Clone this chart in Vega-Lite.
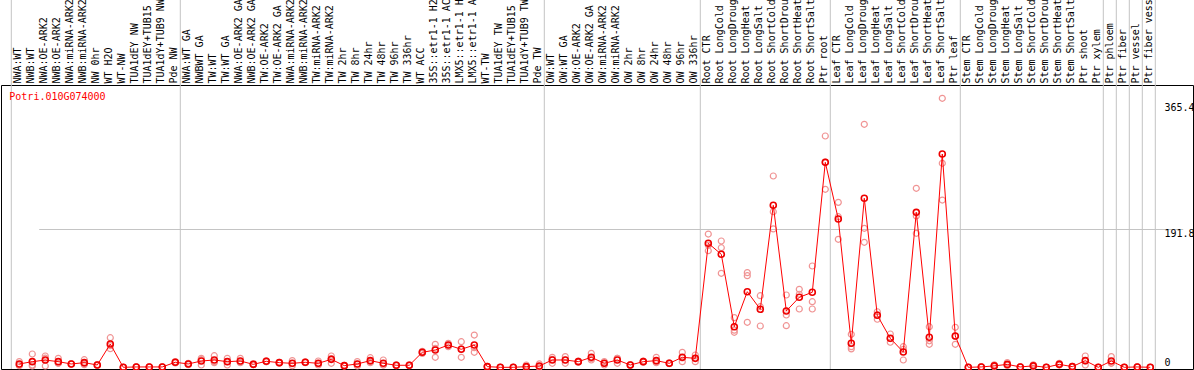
{
  "$schema": "https://vega.github.io/schema/vega-lite/v6.json",
  "autosize": {"type": "none"},
  "padding": {"left": 1, "top": 85, "right": 1, "bottom": 1},
  "width": 1192,
  "height": 284,
  "background": "white",
  "config": {"view": {"stroke": "black", "strokeWidth": 1}, "font": "DejaVu Sans Mono"},
  "datasets": {
    "m": [
      {"i":1,"c":"NWA:WT","v":4.6},{"i":2,"c":"NWB:WT","v":7.8},{"i":3,"c":"NWA:OE-ARK2","v":10},{"i":4,"c":"NWB:OE-ARK2","v":7.8},
      {"i":5,"c":"NWA:miRNA-ARK2","v":4.6},{"i":6,"c":"NWB:miRNA-ARK2","v":6.4},{"i":7,"c":"NW 0hr","v":3.2},{"i":8,"c":"WT H2O","v":32.2},
      {"i":9,"c":"WT-NW","v":0},{"i":10,"c":"TUA1dEY NW","v":0.5},{"i":11,"c":"TUA1dEY+TUB15 NW","v":0.5},{"i":12,"c":"TUA1dY+TUB9 NW","v":0.5},
      {"i":13,"c":"Pde NW","v":7},{"i":14,"c":"NWA:WT GA","v":4.6},{"i":15,"c":"NWBWT GA","v":8.7},{"i":16,"c":"TW:WT","v":10.1},
      {"i":17,"c":"TW:WT GA","v":7.8},{"i":18,"c":"NWA:OE-ARK2 GA","v":8.7},{"i":19,"c":"NWB:OE-ARK2 GA","v":4.1},{"i":20,"c":"TW:OE-ARK2","v":8.3},
      {"i":21,"c":"TW:OE-ARK2 GA","v":6.4},{"i":22,"c":"NWA:miRNA-ARK2 GA","v":5.5},{"i":23,"c":"NWB:miRNA-ARK2 GA","v":6.9},{"i":24,"c":"TW:miRNA-ARK2","v":5.5},
      {"i":25,"c":"TW:miRNA-ARK2 GA","v":11},{"i":26,"c":"TW 2hr","v":2.3},{"i":27,"c":"TW 8hr","v":4.6},{"i":28,"c":"TW 24hr","v":9.2},
      {"i":29,"c":"TW 48hr","v":5.5},{"i":30,"c":"TW 96hr","v":2.8},{"i":31,"c":"TW 336hr","v":2.8},{"i":32,"c":"WT ACC","v":20.7},
      {"i":33,"c":"35S::etr1-1 H2O","v":23.9},{"i":34,"c":"35S::etr1-1 ACC","v":30.8},{"i":35,"c":"LMX5::etr1-1 H2O","v":24.9},{"i":36,"c":"LMX5::etr1-1 ACC","v":30.8},
      {"i":37,"c":"WT-TW","v":0.9},{"i":38,"c":"TUA1dEY TW","v":0},{"i":39,"c":"TUA1dEY+TUB15 TW","v":0},{"i":40,"c":"TUA1dY+TUB9 TW","v":0.9},
      {"i":41,"c":"Pde TW","v":1.8},{"i":42,"c":"OW:WT","v":10.1},{"i":43,"c":"OW:WT GA","v":10.1},{"i":44,"c":"OW:OE-ARK2","v":7.8},
      {"i":45,"c":"OW:OE-ARK2 GA","v":13.8},{"i":46,"c":"OW:miRNA-ARK2","v":5.5},{"i":47,"c":"OW:miRNA-ARK2 GA","v":10.1},{"i":48,"c":"OW 2hr","v":3.2},
      {"i":49,"c":"OW 8hr","v":7.8},{"i":50,"c":"OW 24hr","v":9.2},{"i":51,"c":"OW 48hr","v":5.5},{"i":52,"c":"OW 96hr","v":13.8},
      {"i":53,"c":"OW 336hr","v":12.4},{"i":54,"c":"Root CTR","v":171.4},{"i":55,"c":"Root LongCold","v":156.2},{"i":56,"c":"Root LongDrought","v":56.1},
      {"i":57,"c":"Root LongHeat","v":104.5},{"i":58,"c":"Root LongSalt","v":80.2},{"i":59,"c":"Root ShortCold","v":223.9},{"i":60,"c":"Root ShortDrought","v":77.8},
      {"i":61,"c":"Root ShortHeat","v":96.8},{"i":62,"c":"Root ShortSalt","v":103.7},{"i":63,"c":"Ptr root","v":283.3},{"i":64,"c":"Leaf CTR","v":205},
      {"i":65,"c":"Leaf LongCold","v":33.2},{"i":66,"c":"Leaf LongDrought","v":233.6},{"i":67,"c":"Leaf LongHeat","v":71.9},{"i":68,"c":"Leaf LongSalt","v":40.1},
      {"i":69,"c":"Leaf ShortCold","v":21.1},{"i":70,"c":"Leaf ShortDrought","v":214.2},{"i":71,"c":"Leaf ShortHeat","v":41.5},{"i":72,"c":"Leaf ShortSalt","v":294.8},
      {"i":73,"c":"Ptr leaf","v":43.3},{"i":74,"c":"Stem CTR","v":0},{"i":75,"c":"Stem LongCold","v":0.5},{"i":76,"c":"Stem LongDrought","v":2},
      {"i":77,"c":"Stem LongHeat","v":4},{"i":78,"c":"Stem LongSalt","v":0.5},{"i":79,"c":"Stem ShortCold","v":2},{"i":80,"c":"Stem ShortDrought","v":0},
      {"i":81,"c":"Stem ShortHeat","v":4.1},{"i":82,"c":"Stem ShortSalt","v":0.9},{"i":83,"c":"Ptr shoot","v":9.2},{"i":84,"c":"Ptr xylem","v":0},
      {"i":85,"c":"Ptr phloem","v":8.7},{"i":86,"c":"Ptr fiber","v":0},{"i":87,"c":"Ptr vessel","v":0.5},{"i":88,"c":"Ptr fiber vessel","v":0}
    ],
    "r": [
      {"c":"NWA:WT","v":7.8},{"c":"NWA:WT","v":2.3},{"c":"NWA:WT","v":3.7},
      {"c":"NWB:WT","v":18.4},{"c":"NWB:WT","v":3.2},{"c":"NWB:WT","v":1.8},
      {"c":"NWA:OE-ARK2","v":15.6},{"c":"NWA:OE-ARK2","v":1.8},{"c":"NWA:OE-ARK2","v":12.6},
      {"c":"NWB:OE-ARK2","v":12.4},{"c":"NWB:OE-ARK2","v":5.5},{"c":"NWB:OE-ARK2","v":5.5},
      {"c":"NWA:miRNA-ARK2","v":5},{"c":"NWA:miRNA-ARK2","v":4.2},{"c":"NWA:miRNA-ARK2","v":4.6},
      {"c":"NWB:miRNA-ARK2","v":10.5},{"c":"NWB:miRNA-ARK2","v":5},{"c":"NWB:miRNA-ARK2","v":3.7},
      {"c":"NW 0hr","v":3.2},{"c":"NW 0hr","v":2.5},{"c":"NW 0hr","v":3.9},
      {"c":"WT H2O","v":40.9},{"c":"WT H2O","v":30},{"c":"WT H2O","v":25.7},
      {"c":"WT-NW","v":0},{"c":"WT-NW","v":0},{"c":"WT-NW","v":0},
      {"c":"TUA1dEY NW","v":0.5},{"c":"TUA1dEY NW","v":0.3},{"c":"TUA1dEY NW","v":0.7},
      {"c":"TUA1dEY+TUB15 NW","v":0.5},{"c":"TUA1dEY+TUB15 NW","v":0.3},{"c":"TUA1dEY+TUB15 NW","v":0.7},
      {"c":"TUA1dY+TUB9 NW","v":0.5},{"c":"TUA1dY+TUB9 NW","v":0.3},{"c":"TUA1dY+TUB9 NW","v":0.7},
      {"c":"Pde NW","v":8},{"c":"Pde NW","v":6},{"c":"Pde NW","v":7},
      {"c":"NWA:WT GA","v":5.5},{"c":"NWA:WT GA","v":3.7},{"c":"NWA:WT GA","v":4.6},
      {"c":"NWBWT GA","v":12.4},{"c":"NWBWT GA","v":3.2},{"c":"NWBWT GA","v":10.5},
      {"c":"TW:WT","v":16},{"c":"TW:WT","v":7.8},{"c":"TW:WT","v":6.5},
      {"c":"TW:WT GA","v":12.4},{"c":"TW:WT GA","v":3.2},{"c":"TW:WT GA","v":7.8},
      {"c":"NWA:OE-ARK2 GA","v":12.4},{"c":"NWA:OE-ARK2 GA","v":6.4},{"c":"NWA:OE-ARK2 GA","v":7.3},
      {"c":"NWB:OE-ARK2 GA","v":4.1},{"c":"NWB:OE-ARK2 GA","v":3.5},{"c":"NWB:OE-ARK2 GA","v":4.7},
      {"c":"TW:OE-ARK2","v":8.3},{"c":"TW:OE-ARK2","v":7.6},{"c":"TW:OE-ARK2","v":9},
      {"c":"TW:OE-ARK2 GA","v":6.4},{"c":"TW:OE-ARK2 GA","v":5.8},{"c":"TW:OE-ARK2 GA","v":7},
      {"c":"NWA:miRNA-ARK2 GA","v":9.2},{"c":"NWA:miRNA-ARK2 GA","v":2.3},{"c":"NWA:miRNA-ARK2 GA","v":5},
      {"c":"NWB:miRNA-ARK2 GA","v":7.5},{"c":"NWB:miRNA-ARK2 GA","v":6.3},{"c":"NWB:miRNA-ARK2 GA","v":6.9},
      {"c":"TW:miRNA-ARK2","v":8.7},{"c":"TW:miRNA-ARK2","v":3.2},{"c":"TW:miRNA-ARK2","v":4.6},
      {"c":"TW:miRNA-ARK2 GA","v":15.6},{"c":"TW:miRNA-ARK2 GA","v":5.5},{"c":"TW:miRNA-ARK2 GA","v":11.9},
      {"c":"TW 2hr","v":2.3},{"c":"TW 2hr","v":1.8},{"c":"TW 2hr","v":2.8},
      {"c":"TW 8hr","v":7.8},{"c":"TW 8hr","v":1.8},{"c":"TW 8hr","v":4.2},
      {"c":"TW 24hr","v":13.3},{"c":"TW 24hr","v":6.4},{"c":"TW 24hr","v":7.9},
      {"c":"TW 48hr","v":10.1},{"c":"TW 48hr","v":3.2},{"c":"TW 48hr","v":3.2},
      {"c":"TW 96hr","v":2.8},{"c":"TW 96hr","v":2.3},{"c":"TW 96hr","v":3.3},
      {"c":"TW 336hr","v":2.8},{"c":"TW 336hr","v":2.3},{"c":"TW 336hr","v":3.3},
      {"c":"WT ACC","v":19.3},{"c":"WT ACC","v":22.1},{"c":"WT ACC","v":20.7},
      {"c":"35S::etr1-1 H2O","v":31.8},{"c":"35S::etr1-1 H2O","v":13.8},{"c":"35S::etr1-1 H2O","v":26.1},
      {"c":"35S::etr1-1 ACC","v":33.2},{"c":"35S::etr1-1 ACC","v":28.5},{"c":"35S::etr1-1 ACC","v":30.7},
      {"c":"LMX5::etr1-1 H2O","v":35.4},{"c":"LMX5::etr1-1 H2O","v":13.8},{"c":"LMX5::etr1-1 H2O","v":25.5},
      {"c":"LMX5::etr1-1 ACC","v":44.6},{"c":"LMX5::etr1-1 ACC","v":20.7},{"c":"LMX5::etr1-1 ACC","v":27.1},
      {"c":"WT-TW","v":0.9},{"c":"WT-TW","v":0.5},{"c":"WT-TW","v":1.3},
      {"c":"TUA1dEY TW","v":0},{"c":"TUA1dEY TW","v":0},{"c":"TUA1dEY TW","v":0},
      {"c":"TUA1dEY+TUB15 TW","v":0},{"c":"TUA1dEY+TUB15 TW","v":0},{"c":"TUA1dEY+TUB15 TW","v":0},
      {"c":"TUA1dY+TUB9 TW","v":3.2},{"c":"TUA1dY+TUB9 TW","v":0},{"c":"TUA1dY+TUB9 TW","v":0},
      {"c":"Pde TW","v":4.6},{"c":"Pde TW","v":0.5},{"c":"Pde TW","v":0.3},
      {"c":"OW:WT","v":13.8},{"c":"OW:WT","v":5.5},{"c":"OW:WT","v":11},
      {"c":"OW:WT GA","v":10.1},{"c":"OW:WT GA","v":5.5},{"c":"OW:WT GA","v":14.7},
      {"c":"OW:OE-ARK2","v":7.8},{"c":"OW:OE-ARK2","v":7.2},{"c":"OW:OE-ARK2","v":8.4},
      {"c":"OW:OE-ARK2 GA","v":19.3},{"c":"OW:OE-ARK2 GA","v":10.1},{"c":"OW:OE-ARK2 GA","v":12},
      {"c":"OW:miRNA-ARK2","v":3.2},{"c":"OW:miRNA-ARK2","v":7.8},{"c":"OW:miRNA-ARK2","v":5.5},
      {"c":"OW:miRNA-ARK2 GA","v":5.5},{"c":"OW:miRNA-ARK2 GA","v":12.4},{"c":"OW:miRNA-ARK2 GA","v":12.4},
      {"c":"OW 2hr","v":3.2},{"c":"OW 2hr","v":2.7},{"c":"OW 2hr","v":3.7},
      {"c":"OW 8hr","v":7.8},{"c":"OW 8hr","v":7.2},{"c":"OW 8hr","v":8.4},
      {"c":"OW 24hr","v":13.8},{"c":"OW 24hr","v":6.4},{"c":"OW 24hr","v":7.4},
      {"c":"OW 48hr","v":5.5},{"c":"OW 48hr","v":5},{"c":"OW 48hr","v":6},
      {"c":"OW 96hr","v":20.7},{"c":"OW 96hr","v":7.8},{"c":"OW 96hr","v":12.9},
      {"c":"OW 336hr","v":17},{"c":"OW 336hr","v":7.8},{"c":"OW 336hr","v":12.4},
      {"c":"Root CTR","v":184.2},{"c":"Root CTR","v":168.8},{"c":"Root CTR","v":161.2},
      {"c":"Root LongCold","v":174.6},{"c":"Root LongCold","v":165.3},{"c":"Root LongCold","v":129.9},
      {"c":"Root LongDrought","v":68.6},{"c":"Root LongDrought","v":51.3},{"c":"Root LongDrought","v":48.4},
      {"c":"Root LongHeat","v":130.8},{"c":"Root LongHeat","v":126.6},{"c":"Root LongHeat","v":62.2},
      {"c":"Root LongSalt","v":99},{"c":"Root LongSalt","v":83.8},{"c":"Root LongSalt","v":57.1},
      {"c":"Root ShortCold","v":264.4},{"c":"Root ShortCold","v":215.1},{"c":"Root ShortCold","v":191.2},
      {"c":"Root ShortDrought","v":99.9},{"c":"Root ShortDrought","v":72.3},{"c":"Root ShortDrought","v":57.5},
      {"c":"Root ShortHeat","v":107.8},{"c":"Root ShortHeat","v":101},{"c":"Root ShortHeat","v":80.6},
      {"c":"Root ShortSalt","v":140},{"c":"Root ShortSalt","v":90.7},{"c":"Root ShortSalt","v":80.6},
      {"c":"Ptr root","v":319.7},{"c":"Ptr root","v":283.6},{"c":"Ptr root","v":246},
      {"c":"Leaf CTR","v":228},{"c":"Leaf CTR","v":208.2},{"c":"Leaf CTR","v":176.9},
      {"c":"Leaf LongCold","v":45.6},{"c":"Leaf LongCold","v":28.5},{"c":"Leaf LongCold","v":25.5},
      {"c":"Leaf LongDrought","v":335.9},{"c":"Leaf LongDrought","v":192.1},{"c":"Leaf LongDrought","v":172.8},
      {"c":"Leaf LongHeat","v":76.8},{"c":"Leaf LongHeat","v":72.5},{"c":"Leaf LongHeat","v":66.4},
      {"c":"Leaf LongSalt","v":46},{"c":"Leaf LongSalt","v":34.6},{"c":"Leaf LongSalt","v":39.7},
      {"c":"Leaf ShortCold","v":28.5},{"c":"Leaf ShortCold","v":10.1},{"c":"Leaf ShortCold","v":24.7},
      {"c":"Leaf ShortDrought","v":247.4},{"c":"Leaf ShortDrought","v":209.1},{"c":"Leaf ShortDrought","v":185.2},
      {"c":"Leaf ShortHeat","v":56.1},{"c":"Leaf ShortHeat","v":31.8},{"c":"Leaf ShortHeat","v":36.6},
      {"c":"Leaf ShortSalt","v":371.8},{"c":"Leaf ShortSalt","v":282},{"c":"Leaf ShortSalt","v":231.2},
      {"c":"Ptr leaf","v":55.3},{"c":"Ptr leaf","v":31.8},{"c":"Ptr leaf","v":42.8},
      {"c":"Stem CTR","v":0},{"c":"Stem CTR","v":0},{"c":"Stem CTR","v":0},
      {"c":"Stem LongCold","v":0.5},{"c":"Stem LongCold","v":0.2},{"c":"Stem LongCold","v":0.8},
      {"c":"Stem LongDrought","v":3.5},{"c":"Stem LongDrought","v":1},{"c":"Stem LongDrought","v":1.5},
      {"c":"Stem LongHeat","v":6.5},{"c":"Stem LongHeat","v":2.5},{"c":"Stem LongHeat","v":3},
      {"c":"Stem LongSalt","v":0.5},{"c":"Stem LongSalt","v":0.2},{"c":"Stem LongSalt","v":0.8},
      {"c":"Stem ShortCold","v":3.5},{"c":"Stem ShortCold","v":1},{"c":"Stem ShortCold","v":1.5},
      {"c":"Stem ShortDrought","v":0},{"c":"Stem ShortDrought","v":0},{"c":"Stem ShortDrought","v":0},
      {"c":"Stem ShortHeat","v":5.5},{"c":"Stem ShortHeat","v":3.2},{"c":"Stem ShortHeat","v":3.6},
      {"c":"Stem ShortSalt","v":0.9},{"c":"Stem ShortSalt","v":0.5},{"c":"Stem ShortSalt","v":1.3},
      {"c":"Ptr shoot","v":15.6},{"c":"Ptr shoot","v":3.2},{"c":"Ptr shoot","v":8.8},
      {"c":"Ptr xylem","v":0},{"c":"Ptr xylem","v":0},{"c":"Ptr xylem","v":0},
      {"c":"Ptr phloem","v":14.7},{"c":"Ptr phloem","v":5.5},{"c":"Ptr phloem","v":5.9},
      {"c":"Ptr fiber","v":0},{"c":"Ptr fiber","v":0},{"c":"Ptr fiber","v":0},
      {"c":"Ptr vessel","v":0.5},{"c":"Ptr vessel","v":0.3},{"c":"Ptr vessel","v":0.7},
      {"c":"Ptr fiber vessel","v":0},{"c":"Ptr fiber vessel","v":0},{"c":"Ptr fiber vessel","v":0}
    ],
    "ends": [
      {"c":"Pde NW"},{"c":"Pde TW"},{"c":"OW 336hr"},{"c":"Ptr root"},{"c":"Ptr leaf"},
      {"c":"Ptr xylem"},{"c":"Ptr phloem"},{"c":"Ptr fiber"},{"c":"Ptr vessel"},{"c":"Ptr fiber vessel"}
    ],
    "starts": [{"c":"NWA:WT"}],
    "gene": [{"c":"NWA:WT","t":"Potri.010G074000"}]
  },
  "layer": [
    {
      "data": {"name": "ends"},
      "mark": {"type": "rule", "color": "#c4c4c4", "strokeWidth": 1},
      "encoding": {
        "x": {"field": "c", "type": "nominal", "bandPosition": 1},
        "y": {"datum": -2.35},
        "y2": {"datum": 507.7}
      }
    },
    {
      "data": {"name": "starts"},
      "mark": {"type": "rule", "color": "#c4c4c4", "strokeWidth": 1},
      "encoding": {
        "x": {"field": "c", "type": "nominal", "bandPosition": 0},
        "y": {"datum": -2.35},
        "y2": {"datum": 507.7}
      }
    },
    {
      "data": {"name": "r"},
      "mark": {"type": "point", "shape": "circle", "filled": false, "stroke": "#f09494", "strokeWidth": 1.2, "size": 36, "opacity": 1},
      "encoding": {
        "x": {"field": "c", "type": "nominal", "bandPosition": 0.615},
        "y": {"field": "v", "type": "quantitative"}
      }
    },
    {
      "data": {"name": "m"},
      "mark": {"type": "line", "color": "#ff0000", "strokeWidth": 1},
      "encoding": {
        "x": {
          "field": "c",
          "type": "nominal",
          "bandPosition": 0.615,
          "scale": {
            "type": "band",
            "paddingInner": 0,
            "paddingOuter": 0,
            "range": [10.3, 1154.3],
            "domain": ["NWA:WT","NWB:WT","NWA:OE-ARK2","NWB:OE-ARK2","NWA:miRNA-ARK2","NWB:miRNA-ARK2","NW 0hr","WT H2O","WT-NW","TUA1dEY NW","TUA1dEY+TUB15 NW","TUA1dY+TUB9 NW","Pde NW","NWA:WT GA","NWBWT GA","TW:WT","TW:WT GA","NWA:OE-ARK2 GA","NWB:OE-ARK2 GA","TW:OE-ARK2","TW:OE-ARK2 GA","NWA:miRNA-ARK2 GA","NWB:miRNA-ARK2 GA","TW:miRNA-ARK2","TW:miRNA-ARK2 GA","TW 2hr","TW 8hr","TW 24hr","TW 48hr","TW 96hr","TW 336hr","WT ACC","35S::etr1-1 H2O","35S::etr1-1 ACC","LMX5::etr1-1 H2O","LMX5::etr1-1 ACC","WT-TW","TUA1dEY TW","TUA1dEY+TUB15 TW","TUA1dY+TUB9 TW","Pde TW","OW:WT","OW:WT GA","OW:OE-ARK2","OW:OE-ARK2 GA","OW:miRNA-ARK2","OW:miRNA-ARK2 GA","OW 2hr","OW 8hr","OW 24hr","OW 48hr","OW 96hr","OW 336hr","Root CTR","Root LongCold","Root LongDrought","Root LongHeat","Root LongSalt","Root ShortCold","Root ShortDrought","Root ShortHeat","Root ShortSalt","Ptr root","Leaf CTR","Leaf LongCold","Leaf LongDrought","Leaf LongHeat","Leaf LongSalt","Leaf ShortCold","Leaf ShortDrought","Leaf ShortHeat","Leaf ShortSalt","Ptr leaf","Stem CTR","Stem LongCold","Stem LongDrought","Stem LongHeat","Stem LongSalt","Stem ShortCold","Stem ShortDrought","Stem ShortHeat","Stem ShortSalt","Ptr shoot","Ptr xylem","Ptr phloem","Ptr fiber","Ptr vessel","Ptr fiber vessel"]
          },
          "axis": {
            "orient": "top",
            "title": null,
            "labelAngle": -90,
            "labelAlign": "left",
            "labelBaseline": "middle",
            "labelPadding": 2,
            "labelFont": "DejaVu Sans Mono",
            "labelFontSize": 10,
            "labelColor": "black",
            "labelOverlap": false,
            "labelLimit": 300,
            "bandPosition": 0.73,
            "ticks": false,
            "domain": false,
            "grid": false
          }
        },
        "y": {
          "field": "v",
          "type": "quantitative",
          "scale": {"domain": [-2.35, 390.2], "nice": false, "zero": false},
          "axis": {
            "orient": "right",
            "title": null,
            "offset": -29,
            "values": [0, 191.8, 365.4],
            "labelExpr": "'' + datum.value",
            "labelAlign": "left",
            "labelBaseline": {"condition": {"test": "datum.value === 0", "value": "bottom"}, "value": "top"},
            "labelPadding": 0,
            "labelFont": "DejaVu Sans Mono",
            "labelFontSize": 10,
            "labelColor": "black",
            "ticks": false,
            "domain": false,
            "grid": true,
            "gridColor": "#c4c4c4",
            "gridOpacity": {"condition": {"test": "datum.value === 191.8", "value": 1}, "value": 0}
          }
        },
        "order": {"field": "i", "type": "quantitative"}
      }
    },
    {
      "data": {"name": "m"},
      "mark": {"type": "point", "shape": "circle", "filled": false, "stroke": "#ee0000", "strokeWidth": 1.6, "size": 36, "opacity": 1},
      "encoding": {
        "x": {"field": "c", "type": "nominal", "bandPosition": 0.615},
        "y": {"field": "v", "type": "quantitative"}
      }
    },
    {
      "data": {"name": "gene"},
      "mark": {"type": "text", "align": "left", "baseline": "middle", "color": "#ff0000", "font": "DejaVu Sans Mono", "fontSize": 10, "dx": -2},
      "encoding": {
        "x": {"field": "c", "type": "nominal", "bandPosition": 0},
        "y": {"datum": 374},
        "text": {"field": "t"}
      }
    }
  ]
}
